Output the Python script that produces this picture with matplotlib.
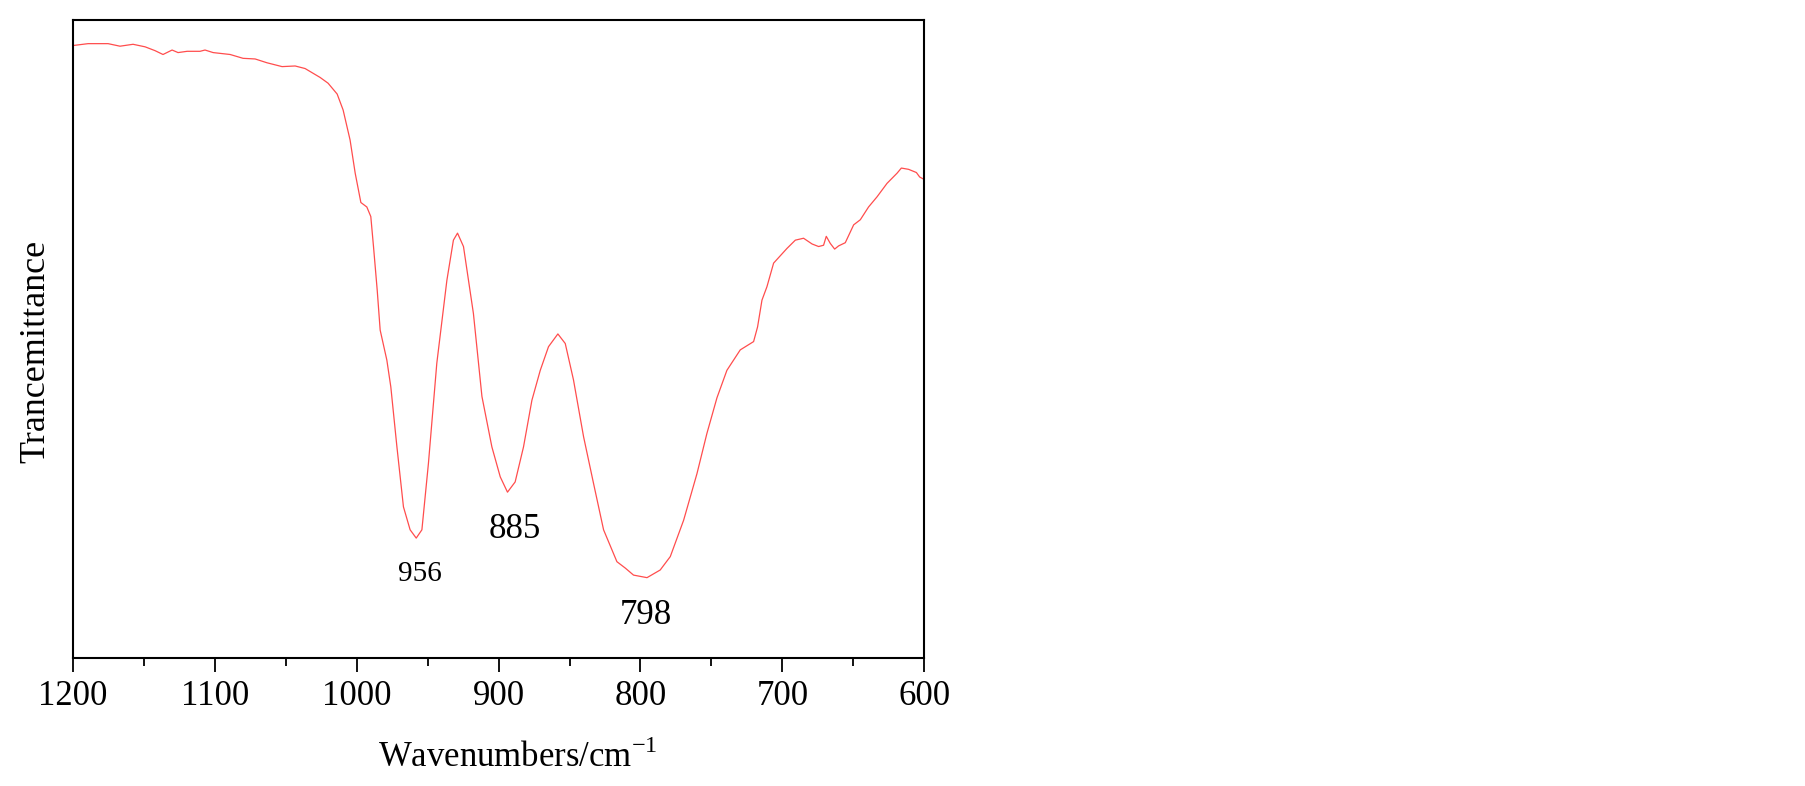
import matplotlib
matplotlib.use('Agg')
import matplotlib.pyplot as plt
from matplotlib.ticker import MultipleLocator

plt.rcParams['font.family'] = ['Liberation Serif', 'DejaVu Serif']
plt.rcParams['mathtext.fontset'] = 'custom'
plt.rcParams['mathtext.rm'] = 'Liberation Serif'

# FTIR spectrum (wavenumber in cm-1, transmittance in arbitrary units)
wavenumber = [1200.0, 1189.2, 1175.1, 1166.7, 1157.5, 1149.0, 1142.0, 1136.4, 1130.0, 1125.8,
              1119.4, 1110.3, 1106.8, 1101.1, 1089.1, 1080.0, 1071.5, 1063.1, 1052.5, 1043.3,
              1036.3, 1025.7, 1020.1, 1013.7, 1009.5, 1004.6, 1001.0, 997.0, 992.8, 990.0,
              988.1, 985.5, 983.4, 978.7, 975.9, 971.6, 967.0, 962.3, 958.0, 954.0,
              949.4, 943.5, 936.4, 931.8, 928.9, 924.7, 917.7, 911.7, 904.7, 898.8,
              893.7, 888.3, 882.4, 876.5, 870.6, 864.8, 858.2, 853.0, 847.2, 840.1,
              833.1, 826.0, 816.6, 810.7, 804.9, 795.4, 786.1, 779.0, 769.6, 760.2,
              753.2, 746.1, 739.1, 729.7, 720.3, 717.5, 714.4, 710.9, 706.2, 696.8,
              690.9, 685.1, 679.1, 674.5, 671.0, 669.1, 666.3, 663.2, 660.4, 655.7,
              649.8, 645.1, 639.3, 633.3, 626.3, 619.2, 616.2, 611.1, 605.6, 603.3, 600.0]
transmittance = [96.0, 96.3, 96.3, 95.9, 96.2, 95.8, 95.2, 94.6, 95.3, 94.9,
                 95.1, 95.1, 95.3, 94.9, 94.6, 94.0, 93.9, 93.3, 92.7, 92.8,
                 92.4, 91.0, 90.1, 88.4, 85.9, 81.2, 76.0, 71.4, 70.7, 69.2,
                 64.5, 57.7, 51.4, 46.7, 42.5, 33.1, 23.7, 20.1, 18.8, 20.1,
                 30.5, 46.2, 59.2, 65.5, 66.6, 64.5, 54.0, 41.0, 33.1, 28.4,
                 26.0, 27.6, 33.1, 40.4, 45.1, 48.8, 50.8, 49.3, 43.6, 34.7,
                 27.4, 20.1, 15.1, 14.1, 13.0, 12.6, 13.8, 15.9, 21.6, 28.9,
                 35.2, 40.8, 45.1, 48.3, 49.6, 51.9, 56.1, 58.2, 61.9, 64.2,
                 65.5, 65.8, 64.9, 64.5, 64.7, 66.1, 65.0, 64.1, 64.6, 65.1,
                 67.9, 68.7, 70.7, 72.3, 74.4, 76.0, 76.8, 76.6, 76.1, 75.4, 75.0]

# peak labels: text, x, y, font size
peak_labels = ['956', '885', '798']
peak_x = [955.2, 888.6, 795.9]
peak_y = [13.2, 20.1, 6.7]
peak_size = [21, 25, 25]

fig = plt.figure(figsize=(18.05, 7.86), dpi=100)
ax = fig.add_axes([0.0403, 0.1628, 0.4718, 0.8117])

ax.plot(wavenumber, transmittance, color='#ff4d4d', linewidth=0.9)

for txt, x, y, s in zip(peak_labels, peak_x, peak_y, peak_size):
    ax.text(x, y, txt, fontsize=s, ha='center', va='center')

ax.set_xlim(1200, 600)
ax.set_ylim(0, 100)
ax.xaxis.set_major_locator(MultipleLocator(100))
ax.xaxis.set_minor_locator(MultipleLocator(50))
ax.tick_params(axis='x', which='major', direction='out', length=10, width=1.3,
               labelsize=25, pad=6)
ax.tick_params(axis='x', which='minor', direction='out', length=5.5, width=1.3)
ax.set_yticks([])
for sp in ax.spines.values():
    sp.set_linewidth(1.5)

ax.set_xlabel(r'Wavenumbers/cm$^{\mathregular{-1}}$', fontsize=25)
ax.xaxis.set_label_coords(0.523, -0.128)
ax.set_ylabel('Trancemittance', fontsize=26)
ax.yaxis.set_label_coords(-0.024, 0.48)

fig.savefig('out.png', dpi=100)
